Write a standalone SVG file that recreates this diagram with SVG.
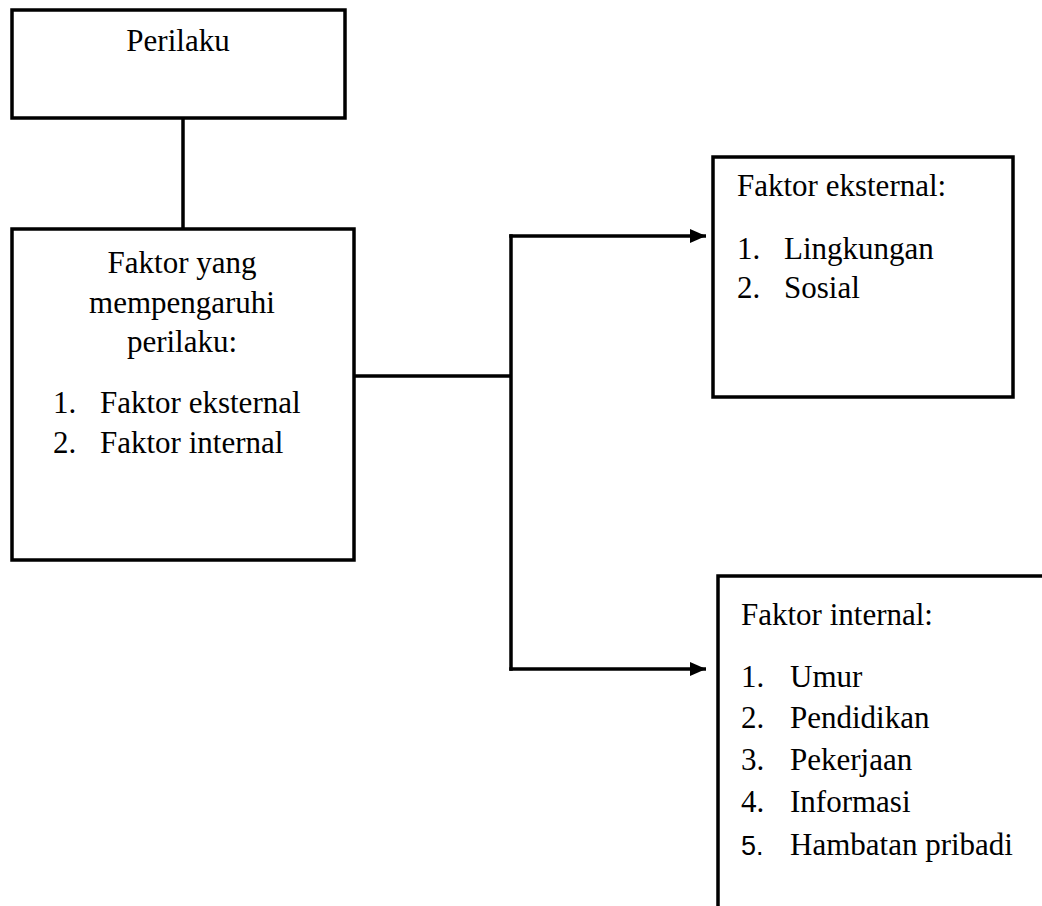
<svg xmlns="http://www.w3.org/2000/svg" width="1042" height="906" viewBox="0 0 1042 906">
<style>
.box{fill:#fff;stroke:#000;stroke-width:3.5}
.ln{fill:none;stroke:#000;stroke-width:3.5}
text{font-family:"Liberation Serif","Times New Roman",serif;font-size:31px;fill:#000}
.c{text-anchor:middle}
.s{font-family:"Liberation Sans",Arial,sans-serif;font-size:27px}
</style>
<defs>
<marker id="ah" markerUnits="userSpaceOnUse" markerWidth="16" markerHeight="14" refX="16" refY="7" orient="auto">
<path d="M0,0 L16,7 L0,14 Z" fill="#000"/>
</marker>
</defs>
<rect width="1042" height="906" fill="#fff"/>
<g id="connectors">
<line class="ln" x1="183" y1="118" x2="183" y2="229"/>
<line class="ln" x1="354" y1="376" x2="511" y2="376"/>
<line class="ln" x1="511" y1="234.25" x2="511" y2="670.75"/>
<line class="ln" x1="509.25" y1="236" x2="706" y2="236" marker-end="url(#ah)"/>
<line class="ln" x1="509.25" y1="669" x2="706" y2="669" marker-end="url(#ah)"/>
</g>
<g id="perilaku">
<rect class="box" x="12" y="10" width="333" height="108"/>
<text class="c" x="178" y="51">Perilaku</text>
</g>
<g id="faktor">
<rect class="box" x="12" y="229" width="342" height="331"/>
<text class="c" x="182" y="273">Faktor yang</text>
<text class="c" x="182" y="313">mempengaruhi</text>
<text class="c" x="182" y="352">perilaku:</text>
<text x="53" y="413">1.</text><text x="100" y="413">Faktor eksternal</text>
<text x="53" y="453">2.</text><text x="100" y="453">Faktor internal</text>
</g>
<g id="eksternal">
<rect class="box" x="713" y="157" width="300" height="240"/>
<text x="737" y="196">Faktor eksternal:</text>
<text x="737" y="259">1.</text><text x="784" y="259">Lingkungan</text>
<text x="737" y="298">2.</text><text x="784" y="298">Sosial</text>
</g>
<g id="internal">
<path class="box" d="M718,910 V576 H1046 V910 Z"/>
<text x="741" y="625">Faktor internal:</text>
<text x="741" y="687">1.</text><text x="790" y="687">Umur</text>
<text x="741" y="728">2.</text><text x="790" y="728">Pendidikan</text>
<text x="741" y="770">3.</text><text x="790" y="770">Pekerjaan</text>
<text x="741" y="812">4.</text><text x="790" y="812">Informasi</text>
<text class="s" x="741" y="855">5.</text><text x="790" y="855">Hambatan pribadi</text>
</g>
</svg>
